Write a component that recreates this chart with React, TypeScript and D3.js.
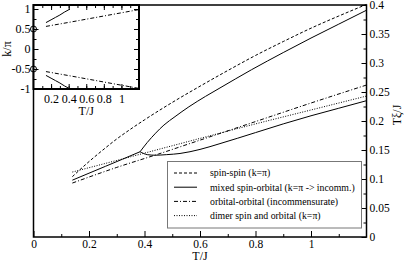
import React, { useEffect, useRef } from "react";
import * as d3 from "d3";

// main panel: correlation length T*xi/J against T/J
const spinSpin: [number, number][] = [
  [0.14, 0.104], [0.2, 0.13], [0.25, 0.15], [0.3, 0.169], [0.35, 0.186], [0.4, 0.202],
  [0.5, 0.232], [0.6, 0.26], [0.7, 0.287], [0.8, 0.313], [0.9, 0.337],
  [1.0, 0.36], [1.1, 0.381], [1.2, 0.401],
];
const mixedLow: [number, number][] = [
  [0.14, 0.098], [0.2, 0.11], [0.26, 0.122], [0.32, 0.134], [0.384, 0.147],
];
const mixedUpper: [number, number][] = [
  [0.384, 0.147], [0.41, 0.163], [0.44, 0.179], [0.47, 0.193], [0.51, 0.2075],
  [0.56, 0.2245], [0.62, 0.2425], [0.672, 0.257], [0.786, 0.2885], [0.9, 0.318],
  [1.0, 0.343], [1.1, 0.367], [1.2, 0.391],
];
const mixedLower: [number, number][] = [
  [0.384, 0.147], [0.41, 0.142], [0.438, 0.141], [0.48, 0.142], [0.528, 0.144],
  [0.6, 0.151], [0.672, 0.161], [0.8, 0.18], [0.9, 0.195], [1.0, 0.209], [1.1, 0.222], [1.2, 0.235],
];
const orbitalOrbital: [number, number][] = [
  [0.14, 0.093], [0.3, 0.12], [0.45, 0.143], [0.6, 0.167], [0.8, 0.199], [1.0, 0.231], [1.2, 0.262],
];
const dimer: [number, number][] = [
  [0.14, 0.112], [0.3, 0.132], [0.45, 0.151], [0.6, 0.17], [0.8, 0.195], [1.0, 0.219], [1.2, 0.243],
];

// inset: wave vector k/pi against T/J
const insetMixed: [number, number][] = [
  [0.142, 0.66], [0.2, 0.73], [0.25, 0.79], [0.3, 0.85], [0.35, 0.92], [0.4, 0.98], [0.415, 1.0],
];
const insetOrbital: [number, number][] = [
  [0.142, 0.565], [0.4, 0.665], [0.7, 0.785], [1.0, 0.905], [1.2, 0.985],
];
const insetZero: [number, number][] = [[0, 0.5], [0, -0.5]];

const xTicks = [0, 0.2, 0.4, 0.6, 0.8, 1];
const xMinor = [0.1, 0.3, 0.5, 0.7, 0.9, 1.1];
const yTicks = [0, 0.05, 0.1, 0.15, 0.2, 0.25, 0.3, 0.35, 0.4];
const yMinor = [0.025, 0.075, 0.125, 0.175, 0.225, 0.275, 0.325, 0.375];
const insetXTicks = [0.2, 0.4, 0.6, 0.8, 1];
const insetXAll = [0.1, 0.2, 0.3, 0.4, 0.5, 0.6, 0.7, 0.8, 0.9, 1, 1.1];
const insetYTicks = [-1, -0.5, 0, 0.5, 1];
const insetYMinor = [-0.75, -0.25, 0.25, 0.75];

const legendItems = [
  { label: "spin-spin (k=\u03c0)", dash: "3,2" },
  { label: "mixed spin-orbital (k=\u03c0 -> incomm.)", dash: null },
  { label: "orbital-orbital (incommensurate)", dash: "4,2,1,2" },
  { label: "dimer spin and orbital (k=\u03c0)", dash: "1,1.5" },
];

const fmt = (d: number) => String(+d.toFixed(3));
const font = "Liberation Serif";

const Chart = () => {
  const svgRef = useRef<SVGSVGElement>(null);

  useEffect(() => {
    const svg = d3.select(svgRef.current);
    svg.selectAll("*").remove();

    const x = d3.scaleLinear().domain([0, 1.2]).range([33.5, 366.5]);
    const y = d3.scaleLinear().domain([0, 0.4]).range([237, 5]);
    const line = d3
      .line<[number, number]>()
      .x((d) => x(d[0]))
      .y((d) => y(d[1]))
      .curve(d3.curveMonotoneX);

    const g = svg.append("g");

    // curves of the main panel
    const curves: [[number, number][], string | null][] = [
      [spinSpin, "3,2"],
      [mixedLow, null],
      [mixedUpper, null],
      [mixedLower, null],
      [orbitalOrbital, "4,2,1,2"],
      [dimer, "1,1.5"],
    ];
    curves.forEach(([data, dash]) => {
      g.append("path")
        .attr("d", line(data))
        .attr("fill", "none")
        .attr("stroke", "#000")
        .attr("stroke-width", 1)
        .attr("stroke-dasharray", dash);
    });

    // axes, ticks pointing inwards
    const bottom = g.append("g").attr("transform", `translate(0,${y(0)})`);
    bottom.call(d3.axisBottom(x).tickValues(xTicks).tickSize(-6).tickPadding(2.5).tickFormat((d) => fmt(+d)));
    bottom.append("g").call(d3.axisBottom(x).tickValues(xMinor).tickSize(-3).tickFormat(() => ""));

    const right = g.append("g").attr("transform", `translate(${x(1.2)},0)`);
    right.call(d3.axisRight(y).tickValues(yTicks).tickSize(-5).tickPadding(3).tickFormat((d) => fmt(+d)));
    right.append("g").call(d3.axisRight(y).tickValues(yMinor).tickSize(-3).tickFormat(() => ""));

    g.selectAll(".domain").remove();
    g.selectAll(".tick text").attr("font-size", 11.5).attr("fill", "#000");
    g.selectAll(".tick line").attr("stroke", "#000");

    // frame
    g.append("rect")
      .attr("x", x(0))
      .attr("y", y(0.4))
      .attr("width", x(1.2) - x(0))
      .attr("height", y(0) - y(0.4))
      .attr("fill", "none")
      .attr("stroke", "#000")
      .attr("stroke-width", 1.5);

    // legend
    const lg = g.append("g");
    lg.append("rect")
      .attr("x", 167.5).attr("y", 161.5).attr("width", 194).attr("height", 66.5)
      .attr("fill", "#fff").attr("stroke", "#777").attr("stroke-width", 1);
    legendItems.forEach((item, i) => {
      const cy = 173 + i * 14.2;
      lg.append("line")
        .attr("x1", 174).attr("x2", 197).attr("y1", cy).attr("y2", cy)
        .attr("stroke", "#000").attr("stroke-width", 1)
        .attr("stroke-dasharray", item.dash);
      lg.append("text")
        .attr("x", 210).attr("y", cy + 3.3)
        .attr("font-size", 9.8)
        .text(item.label);
    });

    // axis titles
    g.append("text").attr("x", x(0.6)).attr("y", 260).attr("text-anchor", "middle").attr("font-size", 12).text("T/J");
    g.append("text")
      .attr("transform", "translate(401,115) rotate(-90)")
      .attr("text-anchor", "middle").attr("font-size", 12).text("T\u03be/J");

    // inset
    const ix = d3.scaleLinear().domain([0, 1.2]).range([33.5, 139]);
    const iy = d3.scaleLinear().domain([-1, 1.1]).range([89, 5]);
    const iline = d3
      .line<[number, number]>()
      .x((d) => ix(d[0]))
      .y((d) => iy(d[1]));
    const ins = svg.append("g");
    ins.append("rect")
      .attr("x", ix(0)).attr("y", iy(1.1)).attr("width", ix(1.2) - ix(0)).attr("height", iy(-1) - iy(1.1))
      .attr("fill", "#fff");
    const mirror = (d: [number, number][]) => d.map(([t, k]) => [t, -k] as [number, number]);
    [insetMixed, mirror(insetMixed)].forEach((d) => {
      ins.append("path").attr("d", iline(d)).attr("fill", "none").attr("stroke", "#000").attr("stroke-width", 1);
    });
    [insetOrbital, mirror(insetOrbital)].forEach((d) => {
      ins.append("path").attr("d", iline(d)).attr("fill", "none").attr("stroke", "#000")
        .attr("stroke-width", 1).attr("stroke-dasharray", "4,2,1,2");
    });

    const ib = ins.append("g").attr("transform", `translate(0,${iy(-1)})`);
    ib.call(d3.axisBottom(ix).tickValues(insetXTicks).tickSize(-5).tickPadding(5).tickFormat((d) => fmt(+d)));
    ib.append("g").call(d3.axisBottom(ix).tickValues(insetXAll).tickSize(-3).tickFormat(() => ""));
    const it = ins.append("g").attr("transform", `translate(0,${iy(1.1)})`);
    it.call(d3.axisTop(ix).tickValues(insetXTicks).tickSize(-5).tickFormat(() => ""));
    it.append("g").call(d3.axisTop(ix).tickValues(insetXAll).tickSize(-3).tickFormat(() => ""));
    const il = ins.append("g").attr("transform", `translate(${ix(0)},0)`);
    il.call(d3.axisLeft(iy).tickValues(insetYTicks).tickSize(-5).tickPadding(3).tickFormat((d) => fmt(+d)));
    il.append("g").call(d3.axisLeft(iy).tickValues(insetYMinor).tickSize(-3).tickFormat(() => ""));
    const ir = ins.append("g").attr("transform", `translate(${ix(1.2)},0)`);
    ir.call(d3.axisRight(iy).tickValues(insetYTicks).tickSize(-5).tickFormat(() => ""));
    ir.append("g").call(d3.axisRight(iy).tickValues(insetYMinor).tickSize(-3).tickFormat(() => ""));

    ins.selectAll(".domain").remove();
    ins.selectAll(".tick text").attr("font-size", 12).attr("fill", "#000");
    ins.selectAll(".tick line").attr("stroke", "#000");

    ins.append("rect")
      .attr("x", ix(0)).attr("y", iy(1.1)).attr("width", ix(1.2) - ix(0)).attr("height", iy(-1) - iy(1.1))
      .attr("fill", "none").attr("stroke", "#000").attr("stroke-width", 2);

    ins.selectAll(".zero")
      .data(insetZero)
      .enter()
      .append("circle")
      .attr("cx", (d) => ix(d[0]))
      .attr("cy", (d) => iy(d[1]))
      .attr("r", 3)
      .attr("fill", "none")
      .attr("stroke", "#000")
      .attr("stroke-width", 1);

    ins.append("text").attr("x", ix(0.6)).attr("y", 115).attr("text-anchor", "middle").attr("font-size", 12).text("T/J");
    ins.append("text")
      .attr("transform", `translate(11,${iy(0)}) rotate(-90)`)
      .attr("text-anchor", "middle").attr("font-size", 12).text("k/\u03c0");

    // every text in the serif face, after the axes set their own
    svg.selectAll("g").attr("font-family", null);
    svg.selectAll("text").attr("font-family", font).style("font-family", font);
  }, []);

  return <svg ref={svgRef} width={407} height={262} style={{ position: "absolute", left: 0, top: 0 }} />;
};

export default function App() {
  return <Chart />;
}
